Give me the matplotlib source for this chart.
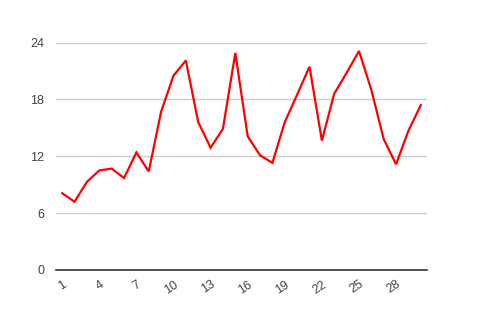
import matplotlib
matplotlib.use("Agg")
import matplotlib.pyplot as plt

categories = [str(i) for i in range(1, 31)]
values = [8.1, 7.2, 9.3, 10.5, 10.7, 9.7, 12.4, 10.4, 16.7, 20.5,
          22.1, 15.6, 12.9, 14.9, 22.9, 14.1, 12.1, 11.3, 15.6, 18.5,
          21.45, 13.65, 18.6, 20.8, 23.1, 19.0, 13.8, 11.15, 14.7, 17.4]
y_ticks = [0, 6, 12, 18, 24]
x_tick_labels = ["1", "4", "7", "10", "13", "16", "19", "22", "25", "28"]

plt.rcParams['font.family'] = ['Liberation Sans', 'DejaVu Sans']

fig = plt.figure(figsize=(4.82, 3.12), dpi=100)
ax = fig.add_axes([56/482, 1-270/312, (427-56)/482, (270-42.5)/312])

x = list(range(len(categories)))
ax.plot(x, values, color='#ff0000', lw=1.6, solid_joinstyle='miter', zorder=3)

ax.set_xlim(-0.5, len(categories) - 0.5)
ax.set_ylim(0, 24)
ax.set_yticks(y_ticks)
ax.set_yticklabels([str(v) for v in y_ticks])
ax.yaxis.grid(True, color='#cccccc', lw=1)
ax.set_axisbelow(True)

tick_pos = [categories.index(l) for l in x_tick_labels]
ax.set_xticks(tick_pos)
ax.set_xticklabels(x_tick_labels, rotation=33, ha='right', rotation_mode='anchor')

for s in ['top', 'left', 'right']:
    ax.spines[s].set_visible(False)
ax.spines['bottom'].set_color('#333333')
ax.spines['bottom'].set_linewidth(1.2)
ax.spines['bottom'].set_zorder(4)

ax.tick_params(axis='both', length=0, colors='#444444', labelsize=9)
ax.tick_params(axis='y', pad=8.5)
ax.tick_params(axis='x', pad=6)

fig.savefig('out.png', dpi=100, facecolor='white')
